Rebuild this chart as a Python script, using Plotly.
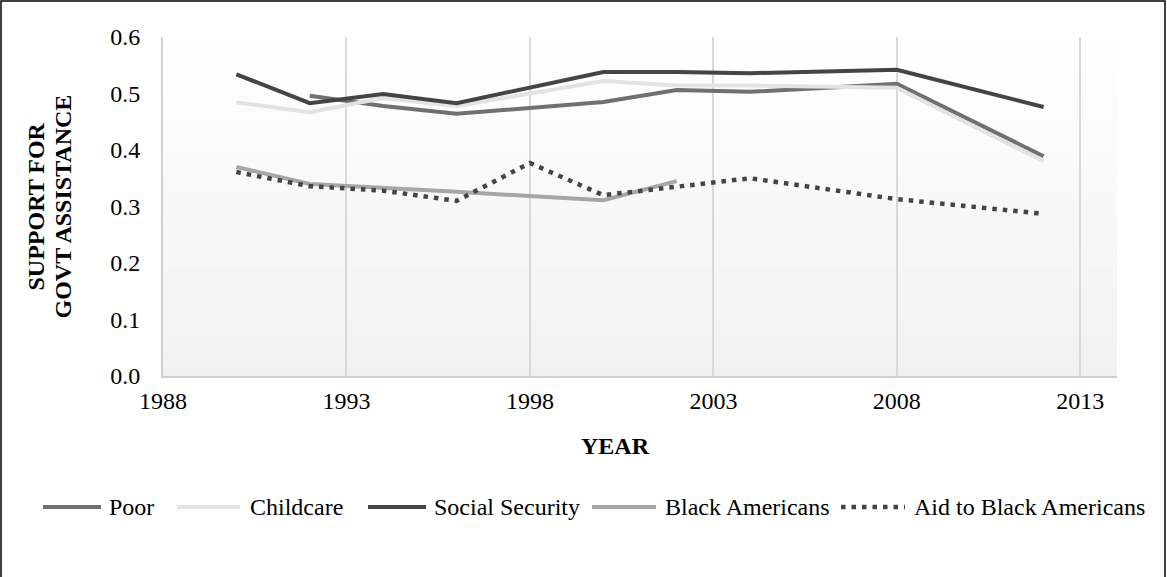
import plotly.graph_objects as go

# Survey years and mean support for each assistance item
poor_years = [1992, 1994, 1996, 2000, 2002, 2004, 2008, 2012]
poor_vals = [0.496, 0.478, 0.464, 0.485, 0.506, 0.503, 0.517, 0.389]

childcare_years = [1990, 1992, 1994, 1996, 2000, 2002, 2004, 2008, 2012]
childcare_vals = [0.484, 0.467, 0.492, 0.478, 0.522, 0.514, 0.514, 0.510, 0.380]

socsec_years = [1990, 1992, 1994, 1996, 2000, 2002, 2004, 2008, 2012]
socsec_vals = [0.534, 0.483, 0.499, 0.483, 0.538, 0.538, 0.536, 0.542, 0.476]

black_years = [1990, 1992, 1996, 2000, 2002]
black_vals = [0.370, 0.340, 0.326, 0.311, 0.345]

aid_black_years = [1990, 1992, 1994, 1996, 1998, 2000, 2002, 2004, 2008, 2012]
aid_black_vals = [0.361, 0.336, 0.328, 0.310, 0.377, 0.320, 0.335, 0.350, 0.313, 0.287]

x_ticks = [1988, 1993, 1998, 2003, 2008, 2013]

SERIF = "Liberation Serif"
FS = 24

# Figure geometry (pixels)
W, H = 1167, 577
ML, MR, MT, MB = 163, 50, 37, 201
PW, PH = W - ML - MR, H - MT - MB


def px_x(p):
    return (p - ML) / PW


def px_y(p):
    return (H - MB - p) / PH


fig = go.Figure()

series = [
    ("Poor", poor_years, poor_vals, "#707070", "solid", 4),
    ("Childcare", childcare_years, childcare_vals, "#e3e3e3", "solid", 4),
    ("Social Security", socsec_years, socsec_vals, "#444444", "solid", 4),
    ("Black Americans", black_years, black_vals, "#a6a6a6", "solid", 4),
    ("Aid to Black Americans", aid_black_years, aid_black_vals, "#444444", "4.5px,6px", 4.5),
]
for name, xs, ys, color, dash, w in series:
    fig.add_trace(go.Scatter(
        x=xs, y=ys, name=name, mode="lines",
        line=dict(color=color, width=w, dash=dash),
    ))

# Soft vertical gradient behind the plotting area
shapes = []
n = 40
for i in range(n):
    g = int(round(255 - (255 - 241) * (1 - (i + 0.5) / n)))
    shapes.append(dict(
        type="rect", xref="x domain", yref="y domain",
        x0=0, x1=1, y0=i / n, y1=(i + 1) / n,
        fillcolor=f"rgb({g},{g},{g})", line=dict(width=0), layer="below",
    ))
# Outer frame around the whole chart
shapes.append(dict(
    type="rect", xref="paper", yref="paper",
    x0=px_x(1), x1=px_x(W - 2), y0=px_y(H + 5), y1=px_y(1),
    line=dict(color="black", width=1.5), fillcolor="rgba(0,0,0,0)", layer="above",
))

annotations = [
    dict(text="<b>SUPPORT FOR</b>", textangle=-90,
         xref="paper", yref="paper", x=px_x(35), y=0.5,
         xanchor="center", yanchor="middle", showarrow=False,
         font=dict(family=SERIF, size=FS, color="black")),
    dict(text="<b>GOVT ASSISTANCE</b>", textangle=-90,
         xref="paper", yref="paper", x=px_x(62), y=0.5,
         xanchor="center", yanchor="middle", showarrow=False,
         font=dict(family=SERIF, size=FS, color="black")),
    dict(text="<b>YEAR</b>", xref="paper", yref="paper",
         x=px_x(615), y=px_y(446), xanchor="center", yanchor="middle",
         showarrow=False, font=dict(family=SERIF, size=FS, color="black")),
]

# Legend row below the axis title: a line sample followed by its label
leg_y = px_y(507)
leg_line_x = [(43, 101), (177, 240), (368, 426), (592, 656), (841, 905)]
leg_text_x = [107, 248, 432, 663, 912]
for (name, _, _, color, dash, w), (a, b), tx in zip(series, leg_line_x, leg_text_x):
    shapes.append(dict(
        type="line", xref="paper", yref="paper",
        x0=px_x(a), x1=px_x(b), y0=leg_y, y1=leg_y,
        line=dict(color=color, width=w, dash=dash),
    ))
    annotations.append(dict(
        text=name, xref="paper", yref="paper", x=px_x(tx), y=leg_y,
        xanchor="left", yanchor="middle", showarrow=False,
        font=dict(family=SERIF, size=FS, color="black"),
    ))

fig.update_layout(
    width=W, height=H,
    margin=dict(l=ML, r=MR, t=MT, b=MB),
    paper_bgcolor="white", plot_bgcolor="white",
    font=dict(family=SERIF, size=FS, color="black"),
    shapes=shapes,
    annotations=annotations,
    showlegend=False,
    xaxis=dict(
        range=[1988, 2014], tickmode="array", tickvals=x_ticks,
        ticktext=[str(v) for v in x_ticks],
        showgrid=True, gridcolor="#d9d9d9", gridwidth=1.5,
        showline=True, linecolor="#d0d0d0", linewidth=2,
        zeroline=False, ticks="", ticklabelstandoff=2,
    ),
    yaxis=dict(
        range=[0, 0.6], tick0=0, dtick=0.1, tickformat=".1f",
        showgrid=False, showline=True, linecolor="#d0d0d0", linewidth=2,
        zeroline=False, ticks="", ticklabelstandoff=16,
    ),
)

fig.write_html("out.html")
